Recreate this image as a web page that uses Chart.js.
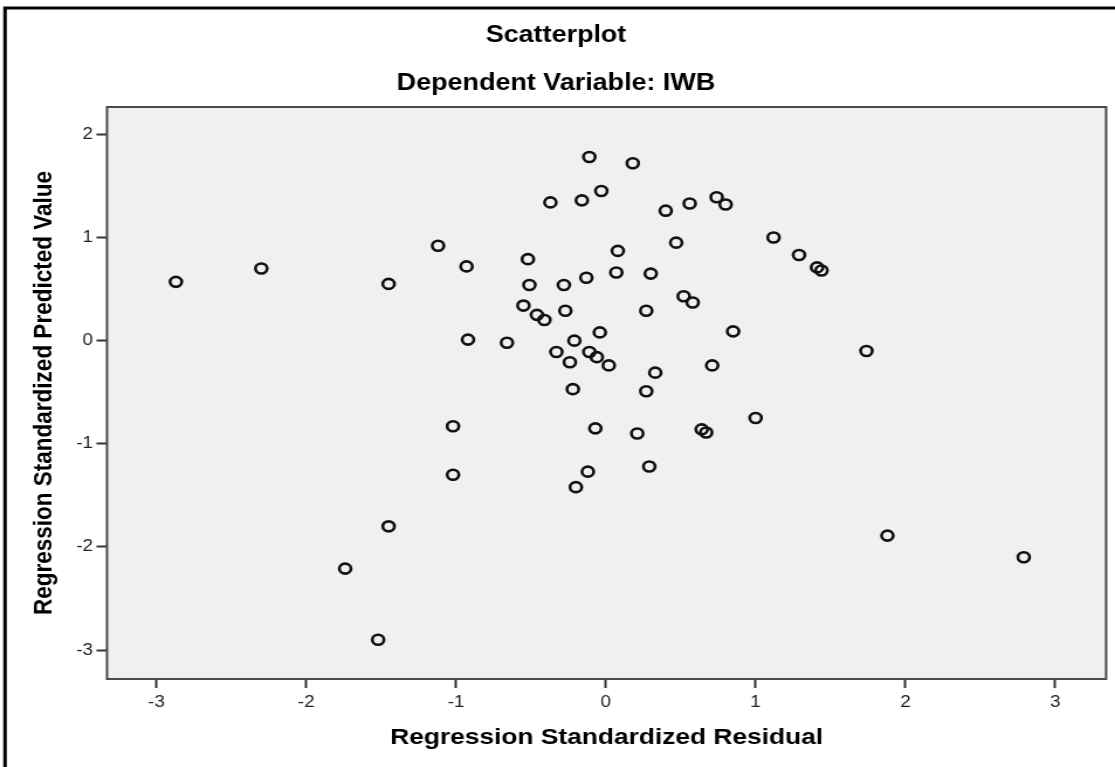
<!DOCTYPE html>
<html>
<head>
<meta charset="utf-8">
<script src="https://cdn.jsdelivr.net/npm/chart.js@4.4.0/dist/chart.umd.min.js"></script>
<style>
html,body{margin:0;padding:0;background:#fff;overflow:hidden}
#c{display:block;width:1115px!important;height:767px!important}
</style>
</head>
<body>
<canvas id="c" width="953" height="767" style="width:1115px;height:767px"></canvas>
<script>
// ---- data ----
const residuals = [
  -2.87, -2.30, -1.45, -1.12, -0.93, -0.92, -1.02, -1.02, -1.45, -1.74, -1.52,
  -0.66, -0.52, -0.51, -0.55, -0.46, -0.41, -0.37, -0.28, -0.27, -0.13, -0.16,
  -0.11, -0.03, 0.18, 0.40, 0.56, 0.74, 0.80, 0.47, 1.12, 1.29, 1.41, 1.44,
  0.08, 0.07, 0.30, 0.27, 0.52, 0.58, -0.33, -0.21, -0.04, -0.24, -0.11, -0.06,
  0.02, -0.22, 0.33, 0.27, 0.71, 0.85, 1.74, -0.07, 0.21, 0.64, 0.67, 1.00,
  -0.12, -0.20, 0.29, 1.88, 2.79
];
const predicted = [
  0.57, 0.70, 0.55, 0.92, 0.72, 0.01, -0.83, -1.30, -1.80, -2.21, -2.90,
  -0.02, 0.79, 0.54, 0.34, 0.25, 0.20, 1.34, 0.54, 0.29, 0.61, 1.36,
  1.78, 1.45, 1.72, 1.26, 1.33, 1.39, 1.32, 0.95, 1.00, 0.83, 0.71, 0.68,
  0.87, 0.66, 0.65, 0.29, 0.43, 0.37, -0.11, 0.00, 0.08, -0.21, -0.11, -0.16,
  -0.24, -0.47, -0.31, -0.49, -0.24, 0.09, -0.10, -0.85, -0.90, -0.86, -0.89, -0.75,
  -1.27, -1.42, -1.22, -1.89, -2.10
];
const xTickValues = [-3, -2, -1, 0, 1, 2, 3];
const yTickValues = [-3, -2, -1, 0, 1, 2];
const xRange = [-3.33, 3.34];
const yRange = [-3.28, 2.265];
const chartTitle = 'Scatterplot';
const chartSubtitle = 'Dependent Variable: IWB';
const xTitle = 'Regression Standardized Residual';
const yTitle = 'Regression Standardized Predicted Value';

// ---- drawing ----
const SX = 1115 / 953; // the reference image is stretched horizontally
const FONT = "'Liberation Sans', Arial, Helvetica, sans-serif";

const points = residuals.map((x, i) => ({ x: x, y: predicted[i] }));

const decor = {
  id: 'decor',
  beforeDraw(chart) {
    const { ctx, chartArea: a } = chart;
    ctx.save();
    ctx.fillStyle = '#ffffff';
    ctx.fillRect(0, 0, chart.width, chart.height);
    ctx.fillStyle = '#f0f0f0';
    ctx.fillRect(a.left, a.top, a.right - a.left, a.bottom - a.top);
    // outer frame of the figure
    ctx.strokeStyle = '#000';
    ctx.lineWidth = 3;
    ctx.beginPath();
    ctx.moveTo(5 / SX, chart.height + 5);
    ctx.lineTo(5 / SX, 8);
    ctx.lineTo(chart.width + 5, 8);
    ctx.stroke();
    ctx.restore();
  },
  afterDraw(chart) {
    const { ctx, chartArea: a } = chart;
    ctx.save();
    ctx.strokeStyle = '#4a4a4a';
    ctx.lineWidth = 2;
    ctx.strokeRect(a.left, a.top, a.right - a.left, a.bottom - a.top);
    ctx.restore();
  }
};

new Chart(document.getElementById('c'), {
  type: 'scatter',
  data: {
    datasets: [{
      data: points,
      pointStyle: 'circle',
      pointRadius: 5,
      pointHoverRadius: 5,
      pointBorderWidth: 2.6,
      borderColor: '#111',
      backgroundColor: 'rgba(0,0,0,0)',
      pointBackgroundColor: 'rgba(0,0,0,0)',
      pointBorderColor: '#111'
    }]
  },
  options: {
    responsive: false,
    devicePixelRatio: 1,
    animation: false,
    events: [],
    layout: { padding: { left: 0, right: 953 - 1112 / SX, top: 0, bottom: 0 } },
    plugins: {
      legend: { display: false },
      tooltip: { enabled: false },
      title: {
        display: true, text: chartTitle, color: '#000',
        font: { family: FONT, size: 23, weight: 'bold' },
        padding: { top: 22, bottom: 0 }
      },
      subtitle: {
        display: true, text: chartSubtitle, color: '#000',
        font: { family: FONT, size: 23, weight: 'bold' },
        padding: { top: 20.6, bottom: 9.2 }
      }
    },
    scales: {
      x: {
        type: 'linear', position: 'bottom',
        min: xRange[0], max: xRange[1],
        afterBuildTicks: s => { s.ticks = xTickValues.map(v => ({ value: v })); },
        afterFit: s => { s.height = 88; },
        grid: { display: true, drawOnChartArea: false, drawTicks: true, tickLength: 9, tickWidth: 2, tickColor: '#333' },
        border: { display: false },
        ticks: { padding: 5, color: '#222', font: { family: FONT, size: 16 }, maxRotation: 0 },
        title: {
          display: true, text: xTitle, color: '#000',
          font: { family: FONT, size: 22.5, weight: 'bold' },
          padding: { top: 0, bottom: 16 }
        }
      },
      y: {
        type: 'linear', position: 'left',
        min: yRange[0], max: yRange[1],
        afterBuildTicks: s => { s.ticks = yTickValues.map(v => ({ value: v })); },
        afterFit: s => { s.width = 107 / SX; },
        grid: { display: true, drawOnChartArea: false, drawTicks: true, tickLength: 9, tickWidth: 2, tickColor: '#333' },
        border: { display: false },
        ticks: { padding: 3, color: '#222', font: { family: FONT, size: 16 } },
        title: {
          display: true, text: yTitle, color: '#000',
          font: { family: FONT, size: 22.5, weight: 'bold' },
          padding: { top: 24, bottom: 0 }
        }
      }
    }
  },
  plugins: [decor]
});
</script>
</body>
</html>
